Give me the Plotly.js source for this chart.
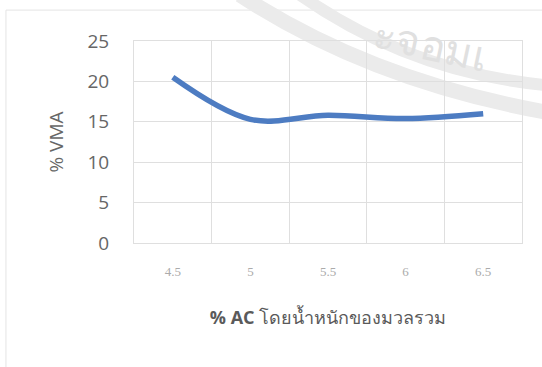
<!DOCTYPE html>
<html>
<head>
<meta charset="utf-8">
<script src="https://cdn.plot.ly/plotly-3.0.1.min.js"></script>
<style>
  html, body { margin: 0; padding: 0; background: #ffffff; }
  #chart { width: 542px; height: 367px; }
</style>
</head>
<body>
<div id="chart"></div>
<script>
// Asphalt content (% AC by weight of aggregate) and voids in mineral aggregate
const acPercent = ['4.5', '5', '5.5', '6', '6.5'];
const vmaValues = [20.5, 15.3, 15.8, 15.4, 16.0];
const yTicks = [0, 5, 10, 15, 20, 25];

const gridGrey = '#dfdfdf';
const textGrey = '#666666';
const stampGrey = '#ebebeb';

const trace = {
  type: 'scatter',
  mode: 'lines',
  x: acPercent,
  y: vmaValues,
  line: { color: '#4d7cc2', width: 5.5, shape: 'spline', smoothing: 1 },
  hoverinfo: 'x+y'
};

const layout = {
  width: 542,
  height: 367,
  margin: { l: 134, r: 20, t: 41, b: 124 },
  paper_bgcolor: '#ffffff',
  plot_bgcolor: '#ffffff',
  showlegend: false,
  xaxis: {
    type: 'category',
    range: [-0.5, 4.5],
    tickson: 'boundaries',
    showgrid: true,
    gridcolor: gridGrey,
    gridwidth: 1,
    showline: true,
    linecolor: gridGrey,
    linewidth: 1,
    mirror: true,
    ticks: '',
    ticklabelstandoff: 16,
    tickfont: { family: 'Liberation Serif, DejaVu Serif, serif', size: 13, color: '#ababab' },
    title: {
      text: '<b>% AC</b> โดยน้ำหนักของมวลรวม',
      font: { family: 'Open Sans, Noto Sans, sans-serif', size: 18, color: '#5a5a5a' },
      standoff: 33
    },
    fixedrange: true
  },
  yaxis: {
    range: [0, 25],
    tickvals: yTicks,
    showgrid: true,
    gridcolor: gridGrey,
    gridwidth: 1,
    zeroline: false,
    showline: true,
    linecolor: gridGrey,
    linewidth: 1,
    mirror: true,
    ticks: '',
    ticklabelstandoff: 20,
    tickfont: { family: 'Open Sans, Noto Sans, sans-serif', size: 19, color: textGrey },
    title: {
      text: '% VMA',
      font: { family: 'Open Sans, Noto Sans, sans-serif', size: 19, color: textGrey },
      standoff: 18
    },
    fixedrange: true
  },
  shapes: [
    // faint outer chart-area frame
    {
      type: 'rect', xref: 'paper', yref: 'paper',
      x0: -0.33, x1: 1.08, y0: -0.7, y1: 1.153,
      line: { color: '#e4e4e4', width: 1 },
      fillcolor: 'rgba(0,0,0,0)', layer: 'below'
    },
    // grey seal arcs in the upper right corner
    {
      type: 'path', xref: 'paper', yref: 'paper',
      path: 'M 0.273,1.228 Q 0.608,0.807 1.059,0.649',
      line: { color: stampGrey, width: 15 }, layer: 'below'
    },
    {
      type: 'path', xref: 'paper', yref: 'paper',
      path: 'M 0.428,1.228 Q 0.711,0.847 1.059,0.782',
      line: { color: stampGrey, width: 12 }, layer: 'below'
    }
  ],
  annotations: [
    {
      xref: 'paper', yref: 'paper',
      x: 0.765, y: 0.99,
      xanchor: 'center', yanchor: 'middle',
      text: 'ะจอมเ',
      showarrow: false,
      textangle: 12,
      font: { family: 'Open Sans, Noto Sans, sans-serif', size: 42, color: '#e0e0e0' }
    }
  ]
};

Plotly.newPlot('chart', [trace], layout, { displayModeBar: false, staticPlot: true });
</script>
</body>
</html>
